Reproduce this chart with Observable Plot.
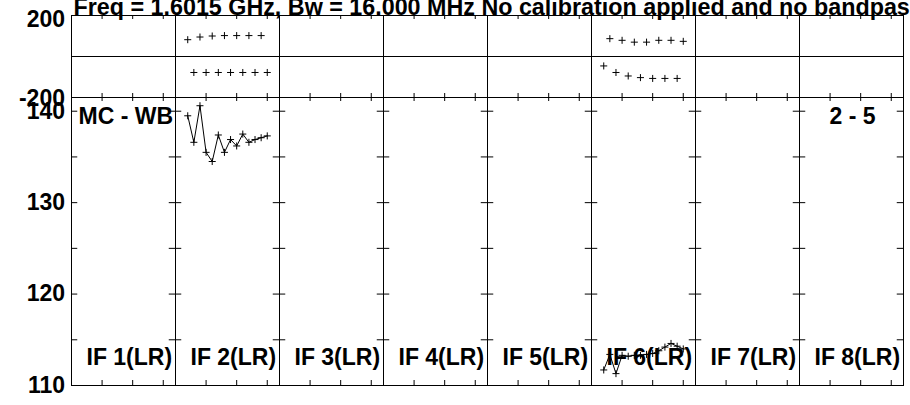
<!DOCTYPE html>
<html>
<head>
<meta charset="utf-8">
<script src="https://cdn.jsdelivr.net/npm/d3@7"></script>
<script src="https://cdn.jsdelivr.net/npm/@observablehq/plot@0.6"></script>
<style>
  html, body { margin: 0; padding: 0; background: #fff; }
  #wrap { position: relative; width: 910px; height: 405px; overflow: hidden; background: #fff; }
  #wrap > .layer { position: absolute; left: 0; top: 0; }
</style>
</head>
<body>
<div id="wrap">
  <div id="phase" class="layer"></div>
  <div id="amp" class="layer"></div>
</div>
<script>
// ---- data ----
const titleText = "Freq = 1.6015 GHz, Bw = 16.000 MHz No calibration applied and no bandpass";
const ifNumbers = [1, 2, 3, 4, 5, 6, 7, 8];
const ifLabels = ["IF 1(LR)", "IF 2(LR)", "IF 3(LR)", "IF 4(LR)", "IF 5(LR)", "IF 6(LR)", "IF 7(LR)", "IF 8(LR)"];
const channels = [2, 3, 4, 5, 6, 7, 8, 9, 10, 11, 12, 13, 14, 15];
const ampIF2 = [139.5, 136.6, 140.6, 135.5, 134.5, 137.4, 135.5, 136.9, 136.2, 137.5, 136.6, 136.9, 137.1, 137.3];
const ampIF6 = [111.7, 113.4, 111.3, 113.3, 113.2, 113.3, 113.3, 113.4, 113.5, 113.8, 114.2, 114.6, 114.3, 114.0];
const phaseIF2 = [82, -78, 95, -78, 100, -78, 102, -78, 102, -78, 102, -78, 102, -78];
const phaseIF6 = [-46, 87, -78, 79, -95, 70, -103, 70, -107, 79, -107, 79, -107, 74];
const phaseTickLabels = [200, -200];
const ampTickLabels = [140, 130, 120, 110];
const ampTicks = [110, 115, 120, 125, 130, 135, 140];
const chanTicks = [5, 10, 15];
const cornerLeft = "MC - WB";
const cornerRight = "2 - 5";

// ---- tables ----
const ampRows = [
  ...channels.map((c, i) => ({IF: 2, ch: c, v: ampIF2[i]})),
  ...channels.map((c, i) => ({IF: 6, ch: c, v: ampIF6[i]}))
];
const phaseRows = [
  ...channels.map((c, i) => ({IF: 2, ch: c, v: phaseIF2[i]})),
  ...channels.map((c, i) => ({IF: 6, ch: c, v: phaseIF6[i]}))
];

const W = 910, ML = 68, MR = 4;
const FW = (W - ML - MR) / ifNumbers.length;
const font = {fontFamily: "'Liberation Sans', Arial, sans-serif", fontWeight: "bold", fontSize: "23px", background: "transparent", overflow: "visible", color: "black"};

const common = {
  width: W, marginLeft: ML, marginRight: MR,
  x: {domain: [0, 17], axis: null},
  fx: {domain: ifNumbers, padding: 0, axis: null},
  style: font
};

// ---- phase panel ----
const P_TOP = 15, P_BOT = 97;
const PH = P_BOT - P_TOP;
const phasePlot = Plot.plot({
  ...common,
  height: P_BOT, marginTop: P_TOP, marginBottom: 0,
  y: {domain: [-200, 200], axis: null},
  marks: [
    Plot.frame({stroke: "black"}),
    Plot.ruleX(ifNumbers, {fx: d => d, x: () => 0, stroke: "black"}),
    Plot.ruleX(ifNumbers, {fx: d => d, x: () => 17, stroke: "black"}),
    Plot.ruleY([0], {stroke: "black"}),
    Plot.ruleX(chanTicks, {x: d => d, stroke: "black", insetBottom: PH - 4}),
    Plot.ruleX(chanTicks, {x: d => d, stroke: "black", insetTop: PH - 4}),
    Plot.dot(phaseRows, {x: "ch", y: "v", fx: "IF", symbol: "plus", r: 2.4, stroke: "black", strokeWidth: 1}),
    Plot.text([phaseTickLabels[0]], {y: d => d, fx: () => 1, text: d => String(d), frameAnchor: "left", textAnchor: "end", dx: -6.5, dy: 4, fontSize: 23}),
    Plot.text([phaseTickLabels[1]], {y: d => d, fx: () => 1, text: d => String(d), frameAnchor: "left", textAnchor: "end", dx: -6.5, dy: 1, fontSize: 23}),
    Plot.text([titleText], {fx: () => 1, text: d => d, frameAnchor: "top-left", textAnchor: "start", lineAnchor: "bottom", dx: 2, dy: -0.5, fontSize: 23.3})
  ]
});
document.getElementById("phase").appendChild(phasePlot);

// ---- amplitude panel ----
const A_TOP = 97, A_BOT = 385, H = 405;
const AH = A_BOT - A_TOP;
const ampPlot = Plot.plot({
  ...common,
  height: H, marginTop: A_TOP, marginBottom: H - A_BOT,
  y: {domain: [110, 141.5], axis: null},
  marks: [
    Plot.frame({stroke: "black"}),
    Plot.ruleX(chanTicks, {x: d => d, stroke: "black", insetBottom: AH - 4}),
    Plot.ruleX(chanTicks, {x: d => d, stroke: "black", insetTop: AH - 5}),
    Plot.ruleY(ampTicks, {y: d => d, stroke: "black", insetRight: FW - 7}),
    Plot.ruleY(ampTicks, {y: d => d, stroke: "black", insetLeft: FW - 7}),
    Plot.line(ampRows, {x: "ch", y: "v", fx: "IF", stroke: "black", strokeWidth: 1}),
    Plot.dot(ampRows, {x: "ch", y: "v", fx: "IF", symbol: "plus", r: 2.4, stroke: "black", strokeWidth: 1}),
    Plot.text(ifNumbers, {fx: d => d, text: (d, i) => ifLabels[i], frameAnchor: "bottom-left", textAnchor: "start", lineAnchor: "bottom", dx: 15, dy: -21, fontSize: 23}),
    Plot.text([cornerLeft], {fx: () => 1, text: d => d, frameAnchor: "top-left", textAnchor: "start", lineAnchor: "bottom", dx: 7, dy: 26, fontSize: 23}),
    Plot.text([cornerRight], {fx: () => 8, text: d => d, frameAnchor: "top-right", textAnchor: "end", lineAnchor: "bottom", dx: -28, dy: 26.5, fontSize: 23}),
    Plot.text(ampTickLabels, {y: d => d, fx: () => 1, text: d => String(d), frameAnchor: "left", textAnchor: "end", dx: -6.5, fontSize: 23})
  ]
});
document.getElementById("amp").appendChild(ampPlot);
</script>
</body>
</html>
